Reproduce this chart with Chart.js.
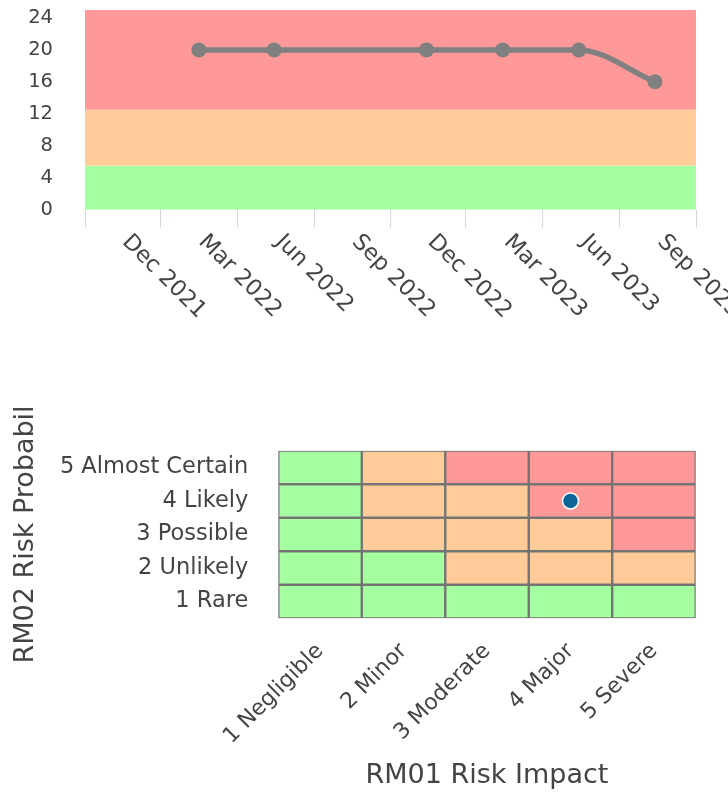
<!DOCTYPE html>
<html>
<head>
<meta charset="utf-8">
<script src="https://cdn.jsdelivr.net/npm/chart.js@4.4.1/dist/chart.umd.min.js"></script>
<style>
  html, body { margin: 0; padding: 0; background: #ffffff; }
  #wrap { position: relative; width: 728px; height: 793px; overflow: hidden; }
  .box { position: absolute; left: 0; width: 728px; }
  #trendBox { top: 0; height: 330px; }
  #matrixBox { top: 380px; height: 413px; }
</style>
</head>
<body>
<div id="wrap">
  <div class="box" id="trendBox"><canvas id="trend" width="728" height="330"></canvas></div>
  <div class="box" id="matrixBox"><canvas id="matrix" width="728" height="413"></canvas></div>
</div>
<script>
// ---- Risk score history ----
const reviewDates = ['2022-04-16', '2022-07-15', '2023-01-13', '2023-04-14', '2023-07-14', '2023-10-13'];
const riskScores = [20, 20, 20, 20, 20, 16];

// Quarter boundaries (tick marks) and the quarter names shown under each period
const quarterStarts = ['2021-12-01', '2022-03-01', '2022-06-01', '2022-09-01', '2022-12-01',
                       '2023-03-01', '2023-06-01', '2023-09-01', '2023-12-01'];
const quarterLabels = ['Dec 2021', 'Mar 2022', 'Jun 2022', 'Sep 2022', 'Dec 2022',
                       'Mar 2023', 'Jun 2023', 'Sep 2023'];

const scoreTicks = [0, 4, 8, 12, 16, 20, 24];
const scoreMax = 25;

// Rating bands: low, medium, high
const bandEdges = [0, 5.5, 12.5, 25];
const bandColors = ['rgb(165,255,160)', 'rgb(255,204,153)', 'rgb(255,153,153)'];

// ---- Risk matrix ----
const impactLabels = ['1 Negligible', '2 Minor', '3 Moderate', '4 Major', '5 Severe'];
const probabilityLabels = ['1 Rare', '2 Unlikely', '3 Possible', '4 Likely', '5 Almost Certain'];
// one row per probability level (Rare first), one column per impact level
const cellScores = [
  [1, 2, 3, 4, 5],
  [2, 4, 6, 8, 10],
  [3, 6, 9, 12, 15],
  [4, 8, 12, 16, 20],
  [5, 10, 15, 20, 25]
];
const currentImpact = '4 Major';
const currentProbability = '4 Likely';

const TEXT = '#444444';
const FONT = "'DejaVu Sans', Verdana, sans-serif";
Chart.defaults.font.family = FONT;
Chart.defaults.color = TEXT;

function bandColorFor(score) {
  for (let i = 0; i < bandColors.length; i++) {
    if (score <= bandEdges[i + 1]) return bandColors[i];
  }
  return bandColors[bandColors.length - 1];
}

const quarterValues = quarterStarts.map(d => Date.parse(d));

// Shaded rating bands behind the score line
const bandPlugin = {
  id: 'ratingBands',
  beforeDatasetsDraw(chart) {
    const { ctx, chartArea } = chart;
    const ys = chart.scales.y;
    ctx.save();
    for (let i = 0; i < bandColors.length; i++) {
      const yTop = ys.getPixelForValue(bandEdges[i + 1]);
      const yBot = ys.getPixelForValue(bandEdges[i]);
      ctx.fillStyle = bandColors[i];
      ctx.fillRect(chartArea.left, yTop, chartArea.right - chartArea.left, yBot - yTop);
    }
    ctx.restore();
  }
};

// Quarter names centred on each period, slanted downwards
const periodLabelPlugin = {
  id: 'periodLabels',
  afterDraw(chart) {
    const { ctx, chartArea } = chart;
    const xs = chart.scales.x;
    ctx.save();
    ctx.font = "22.5px " + FONT;
    ctx.fillStyle = TEXT;
    ctx.textAlign = 'left';
    ctx.textBaseline = 'middle';
    for (let i = 0; i < quarterLabels.length; i++) {
      const mid = (quarterValues[i] + quarterValues[i + 1]) / 2;
      const x = xs.getPixelForValue(mid);
      ctx.save();
      ctx.translate(x + 3, chartArea.bottom + 29);
      ctx.rotate(Math.PI / 4);
      ctx.fillText(quarterLabels[i], 0, 0);
      ctx.restore();
    }
    ctx.restore();
  }
};

new Chart(document.getElementById('trend'), {
  type: 'line',
  data: {
    datasets: [{
      data: reviewDates.map((d, i) => ({ x: Date.parse(d), y: riskScores[i] })),
      borderColor: '#808080',
      backgroundColor: '#808080',
      borderWidth: 5.5,
      pointRadius: 7.5,
      pointBorderWidth: 0,
      pointBackgroundColor: '#808080',
      cubicInterpolationMode: 'monotone',
      fill: false
    }]
  },
  options: {
    responsive: false,
    devicePixelRatio: 1,
    animation: false,
    layout: { padding: { top: 10, right: 32, left: 0, bottom: 0 } },
    plugins: { legend: { display: false }, tooltip: { enabled: false } },
    scales: {
      x: {
        type: 'linear',
        min: quarterValues[0],
        max: quarterValues[quarterValues.length - 1],
        afterBuildTicks: s => { s.ticks = quarterValues.map(v => ({ value: v })); },
        afterFit: s => { s.height = 120.5; s.paddingLeft = 0; s.paddingRight = 0; },
        ticks: { display: false },
        grid: { drawOnChartArea: false, drawTicks: true, tickLength: 18, color: '#d3d6e4', lineWidth: 1 },
        border: { display: false }
      },
      y: {
        type: 'linear',
        min: 0,
        max: scoreMax,
        afterBuildTicks: s => { s.ticks = scoreTicks.map(v => ({ value: v })); },
        afterFit: s => { s.width = 85; s.paddingTop = 0; s.paddingBottom = 0; },
        ticks: { padding: 32, color: TEXT, font: { size: 19.5, lineHeight: 1 } },
        grid: { display: false, drawTicks: false },
        border: { display: false }
      }
    }
  },
  plugins: [bandPlugin, periodLabelPlugin]
});

// Matrix cells as full-width floating bars, one dataset per probability row
const cellDatasets = probabilityLabels.map((p, r) => ({
  type: 'bar',
  data: impactLabels.map(() => [r, r + 1]),
  backgroundColor: cellScores[r].map(bandColorFor),
  borderColor: '#747474',
  borderWidth: 1.5,
  borderSkipped: false,
  grouped: false,
  categoryPercentage: 1,
  barPercentage: 1
}));

const positionDataset = {
  type: 'line',
  order: -1,
  data: [{ x: currentImpact, y: probabilityLabels.indexOf(currentProbability) + 0.5 }],
  showLine: false,
  pointRadius: 8,
  pointBackgroundColor: '#0d6496',
  pointBorderColor: '#ffffff',
  pointBorderWidth: 1.5
};

new Chart(document.getElementById('matrix'), {
  type: 'bar',
  data: { labels: impactLabels, datasets: [...cellDatasets, positionDataset] },
  options: {
    responsive: false,
    devicePixelRatio: 1,
    animation: false,
    layout: { padding: { top: 70.7, right: 32.3, left: 10, bottom: 0 } },
    plugins: { legend: { display: false }, tooltip: { enabled: false } },
    scales: {
      x: {
        type: 'category',
        afterFit: s => { s.height = 174.7; },
        ticks: { minRotation: 45, maxRotation: 45, autoSkip: false, padding: 12, color: TEXT, font: { size: 22 } },
        grid: { display: false },
        border: { display: false },
        title: { display: true, text: 'RM01 Risk Impact', color: TEXT, font: { size: 27 }, padding: { top: 0, bottom: 1 } }
      },
      y: {
        type: 'linear',
        min: 0,
        max: probabilityLabels.length,
        afterBuildTicks: s => { s.ticks = probabilityLabels.map((_, i) => ({ value: i + 0.5 })); },
        afterFit: s => { s.width = 268.3; },
        ticks: {
          padding: 30,
          color: TEXT,
          font: { size: 22.5 },
          callback: v => probabilityLabels[Math.round(v - 0.5)]
        },
        grid: { display: false, drawTicks: false },
        border: { display: false },
        title: { display: true, text: 'RM02 Risk Probabil', color: TEXT, font: { size: 27 }, padding: 0 }
      }
    }
  }
});
</script>
</body>
</html>
